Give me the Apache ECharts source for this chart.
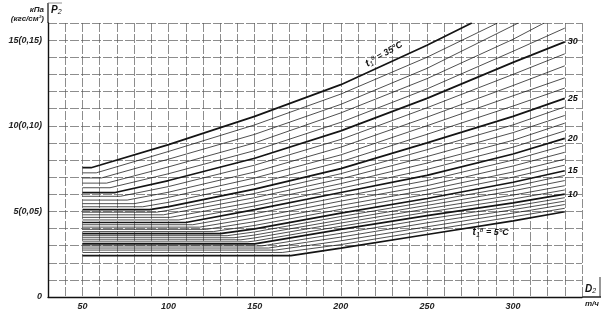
<!DOCTYPE html>
<html><head><meta charset="utf-8">
<script src="https://cdn.jsdelivr.net/npm/echarts@6/dist/echarts.min.js"></script>
<style>html,body{margin:0;padding:0;background:#fff}#c{width:603px;height:314px}</style>
</head><body><div id="c"></div>
<script>
// Inlet cooling-water temperature t1 (°C), one curve each
const temps = [35,34,33,32,31,30,29,28,27,26,25,24,23,22,21,20,19,18,17,16,15,14,13,12,11,10,9,8,7,6,5];
// Condenser pressure P2 (kPa) vs steam flow D2 (t/h)
const c35 = [[50,7.55],[55,7.55],[100,8.9],[150,10.55],[200,12.4],[250,14.7],[276,16]];
const c34 = [[50,7.25],[58,7.25],[100,8.5],[150,10.05],[200,11.85],[250,14.0],[291,16]];
const c33 = [[50,6.95],[61,6.95],[100,8.05],[150,9.5],[200,11.25],[250,13.35],[303,16]];
const c32 = [[50,6.65],[64,6.65],[100,7.6],[150,9.0],[200,10.75],[250,12.75],[300,15.05],[318,16]];
const c31 = [[50,6.38],[66,6.38],[100,7.2],[150,8.55],[200,10.2],[250,12.15],[300,14.35],[330,15.7]];
const c30 = [[50,6.1],[69,6.1],[100,6.8],[150,8.1],[200,9.7],[250,11.6],[300,13.7],[330,14.9]];
const c29 = [[50,5.88],[72,5.88],[100,6.45],[150,7.7],[200,9.2],[250,11.05],[300,13.0],[330,14.2]];
const c28 = [[50,5.66],[76,5.66],[100,6.12],[150,7.3],[200,8.75],[250,10.5],[300,12.35],[330,13.5]];
const c27 = [[50,5.45],[80,5.45],[100,5.82],[150,6.95],[200,8.3],[250,10.0],[300,11.75],[330,12.8]];
const c26 = [[50,5.27],[85,5.27],[100,5.53],[150,6.6],[200,7.9],[250,9.5],[300,11.15],[330,12.2]];
const c25 = [[50,5.1],[89,5.1],[100,5.28],[150,6.3],[200,7.5],[250,9.0],[300,10.55],[330,11.6]];
const c24 = [[50,4.95],[93,4.95],[100,5.07],[150,6.05],[200,7.2],[250,8.6],[300,10.05],[330,11.1]];
const c23 = [[50,4.8],[97,4.8],[150,5.8],[200,6.9],[250,8.2],[300,9.6],[330,10.6]];
const c22 = [[50,4.65],[101,4.65],[150,5.55],[200,6.62],[250,7.82],[300,9.15],[330,10.15]];
const c21 = [[50,4.5],[106,4.5],[150,5.32],[200,6.35],[250,7.45],[300,8.75],[330,9.7]];
const c20 = [[50,4.35],[110,4.35],[150,5.1],[200,6.1],[250,7.1],[300,8.35],[330,9.26]];
const c19 = [[50,4.22],[114,4.22],[150,4.86],[200,5.85],[250,6.8],[300,8.0],[330,8.85]];
const c18 = [[50,4.08],[118,4.08],[150,4.62],[200,5.6],[250,6.5],[300,7.65],[330,8.45]];
const c17 = [[50,3.95],[122,3.95],[150,4.4],[200,5.35],[250,6.25],[300,7.3],[330,8.05]];
const c16 = [[50,3.82],[126,3.82],[150,4.18],[200,5.12],[250,6.0],[300,7.0],[330,7.7]];
const c15 = [[50,3.7],[130,3.7],[150,3.98],[200,4.9],[250,5.75],[300,6.7],[330,7.37]];
const c14 = [[50,3.58],[134,3.58],[150,3.8],[200,4.7],[250,5.55],[300,6.45],[330,7.1]];
const c13 = [[50,3.46],[138,3.46],[150,3.62],[200,4.5],[250,5.35],[300,6.2],[330,6.8]];
const c12 = [[50,3.34],[142,3.34],[150,3.45],[200,4.32],[250,5.15],[300,5.95],[330,6.5]];
const c11 = [[50,3.22],[146,3.22],[150,3.27],[200,4.13],[250,4.95],[300,5.72],[330,6.25]];
const c10 = [[50,3.1],[150,3.1],[200,3.95],[250,4.75],[300,5.5],[330,6.01]];
const c9  = [[50,2.98],[154,2.98],[200,3.72],[250,4.55],[300,5.3],[330,5.8]];
const c8  = [[50,2.86],[158,2.86],[200,3.5],[250,4.33],[300,5.1],[330,5.6]];
const c7  = [[50,2.74],[162,2.74],[200,3.28],[250,4.1],[300,4.9],[330,5.4]];
const c6  = [[50,2.6],[166,2.6],[200,3.06],[250,3.88],[300,4.68],[330,5.18]];
const c5  = [[50,2.42],[171,2.42],[200,2.85],[250,3.65],[300,4.45],[330,4.98]];
const curves = [c35,c34,c33,c32,c31,c30,c29,c28,c27,c26,c25,c24,c23,c22,c21,c20,c19,c18,c17,c16,c15,c14,c13,c12,c11,c10,c9,c8,c7,c6,c5];
const endLabelTemps = [30,25,20,15,10];
const yTickLabels = {0:'0',5:'5(0,05)',10:'10(0,10)',15:'15(0,15)'};
const xTickLabels = [50,100,150,200,250,300];
const topLabelPos = [225, 13.6];    // where "t1 = 35°C" sits along its curve
const lowLabelPos = [287, 3.78];    // where "t1 = 5°C" sits under its curve

const FONT = 'Liberation Sans';
const chart = echarts.init(document.getElementById('c'), null, {renderer:'canvas'});
const gridColor = '#5c5c5c';
chart.setOption({
  animation: false,
  backgroundColor: '#fff',
  grid: {left: 48, right: 21, top: 23, bottom: 17, containLabel: false},
  xAxis: {
    type: 'value', min: 30, max: 340, interval: 10,
    axisLine: {show: true, onZero: false, lineStyle: {color: '#111', width: 1.4}},
    axisTick: {show: false},
    axisLabel: {
      margin: 5, fontSize: 9, fontStyle: 'italic', fontWeight: 'bold', fontFamily: FONT, color: '#222',
      formatter: v => xTickLabels.includes(v) ? String(v) : ''
    },
    splitLine: {show: true, lineStyle: {color: gridColor, width: 0.7, type: [9, 2]}}
  },
  yAxis: {
    type: 'value', min: 0, max: 16, interval: 1,
    axisLine: {show: true, onZero: false, lineStyle: {color: '#111', width: 1.4}},
    axisTick: {show: false},
    axisLabel: {
      margin: 6, fontSize: 9, fontStyle: 'italic', fontWeight: 'bold', fontFamily: FONT, color: '#222',
      formatter: v => (yTickLabels[v] !== undefined ? yTickLabels[v] : '')
    },
    splitLine: {show: true, lineStyle: {color: gridColor, width: 0.7, type: [9, 2]}}
  },
  series: temps.map((t, i) => ({
    type: 'line', data: curves[i], symbol: 'none', silent: true, clip: true,
    lineStyle: {color: '#141414', width: t % 5 === 0 ? 1.7 : 0.75},
    endLabel: {
      show: endLabelTemps.includes(t), formatter: String(t), distance: 3,
      fontSize: 9, fontStyle: 'italic', fontWeight: 'bold', fontFamily: FONT, color: '#111'
    }
  }))
});

function px(p) { return chart.convertToPixel({gridIndex: 0}, p); }
const tl = px([30, 16]);
const br = px([340, 0]);
const a = px(topLabelPos);
const b = px(lowLabelPos);
const richT = {
  t: {fontSize: 10, fontStyle: 'italic', fontWeight: 'bold', fontFamily: FONT, fill: '#111'},
  sub: {fontSize: 7, fontStyle: 'italic', fontFamily: FONT, fill: '#111', verticalAlign: 'bottom', padding: [4,0,0,0]},
  sup: {fontSize: 7, fontStyle: 'italic', fontFamily: FONT, fill: '#111', verticalAlign: 'top', padding: [0,0,5,0]},
  n: {fontSize: 9, fontStyle: 'italic', fontWeight: 'bold', fontFamily: FONT, fill: '#111'}
};
chart.setOption({
  graphic: [
    {type: 'line', shape: {x1: tl[0], y1: tl[1], x2: tl[0], y2: 3}, style: {stroke: '#111', lineWidth: 1.2}, silent: true},
    {type: 'line', shape: {x1: tl[0], y1: 3, x2: tl[0] + 14, y2: 3}, style: {stroke: '#777', lineWidth: 0.8}, silent: true},
    {type: 'text', x: tl[0] + 3, y: 5, style: {text: '{t|P}{sub|2}', rich: richT, fill: '#111'}, silent: true},
    {type: 'text', x: 44, y: 6, style: {text: 'кПа', font: 'italic bold 8px ' + FONT, fill: '#222', align: 'right'}, silent: true},
    {type: 'text', x: 44, y: 15, style: {text: '(кгс/см²)', font: 'italic bold 8px ' + FONT, fill: '#222', align: 'right'}, silent: true},
    {type: 'line', shape: {x1: br[0], y1: br[1], x2: 601, y2: br[1]}, style: {stroke: '#111', lineWidth: 1.4}, silent: true},
    {type: 'line', shape: {x1: 600, y1: br[1] - 20, x2: 600, y2: br[1]}, style: {stroke: '#333', lineWidth: 1}, silent: true},
    {type: 'text', x: 585, y: br[1] - 13, style: {text: '{t|D}{sub|2}', rich: richT, fill: '#111'}, silent: true},
    {type: 'text', x: 585, y: br[1] + 3, style: {text: 'т/ч', font: 'italic bold 8px ' + FONT, fill: '#222'}, silent: true},
    {type: 'text', x: a[0], y: a[1] - 10, rotation: 30 * Math.PI / 180,
      style: {text: '{t|t}{sub|1}{sup|в}{n| = 35°C}', rich: richT, align: 'center', verticalAlign: 'middle'}, silent: true},
    {type: 'text', x: b[0], y: b[1],
      style: {text: '{t|t}{sub|1}{sup|в}{n| = 5°C}', rich: richT, align: 'center', verticalAlign: 'middle'}, silent: true}
  ]
});
</script></body></html>
